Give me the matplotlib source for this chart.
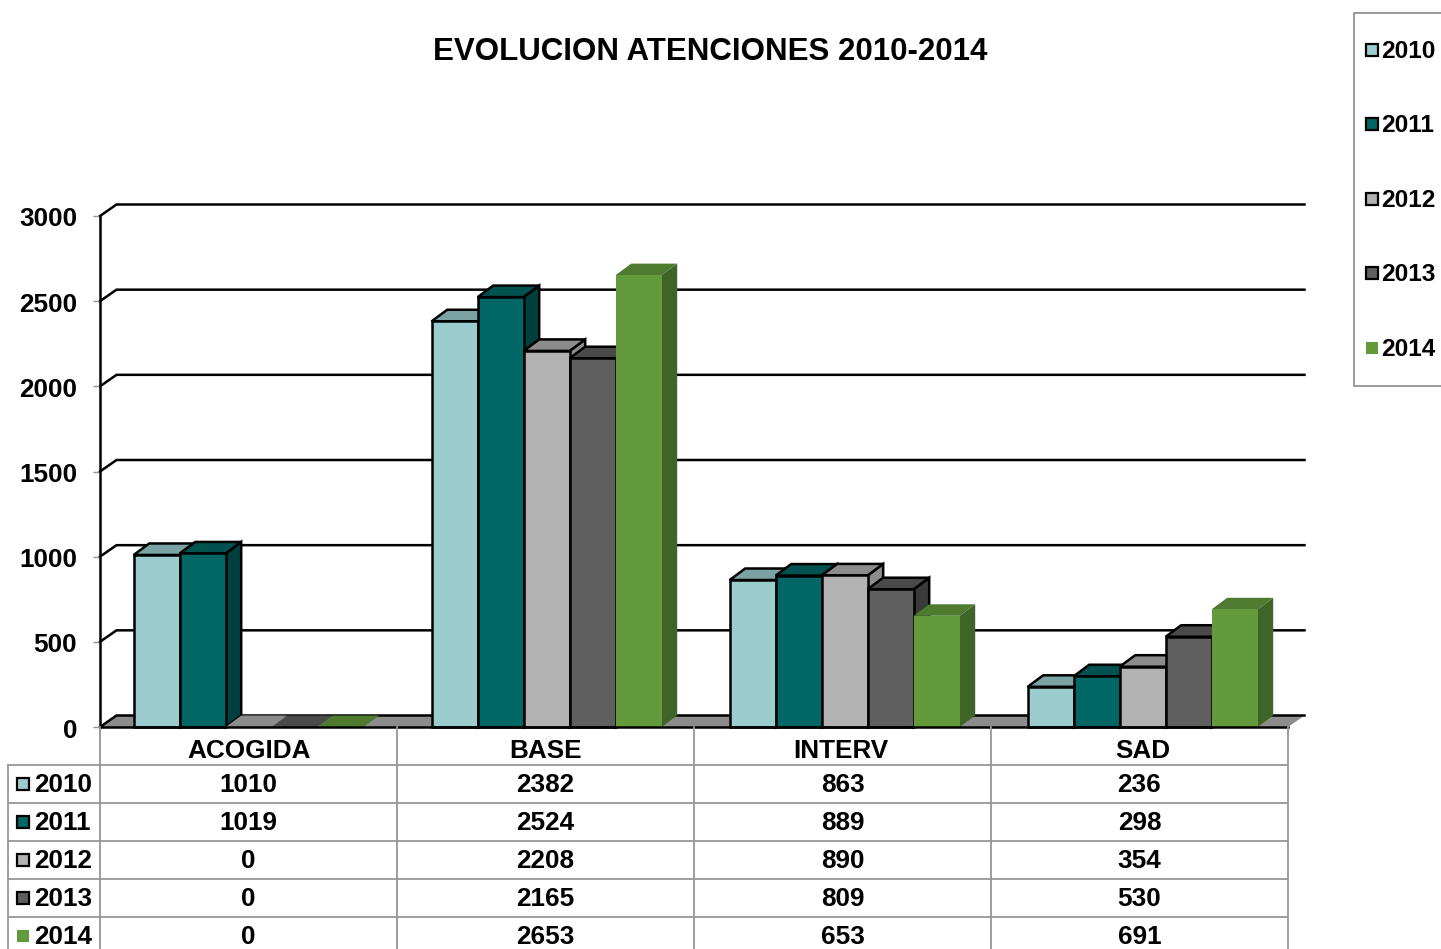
#!/usr/bin/env python3
"""Clustered pseudo-3D bars with data table: EVOLUCION ATENCIONES 2010-2014."""

import matplotlib

matplotlib.use("Agg")
import matplotlib.pyplot as plt
from matplotlib.patches import Polygon, Rectangle
from matplotlib.transforms import ScaledTranslation

plt.rcParams["font.family"] = ["Liberation Sans", "DejaVu Sans"]
plt.rcParams["font.weight"] = "bold"

categories = ["ACOGIDA", "BASE", "INTERV", "SAD"]
years = ["2010", "2011", "2012", "2013", "2014"]
v2010 = [1010, 2382, 863, 236]
v2011 = [1019, 2524, 889, 298]
v2012 = [0, 2208, 890, 354]
v2013 = [0, 2165, 809, 530]
v2014 = [0, 2653, 653, 691]
series = [v2010, v2011, v2012, v2013, v2014]
yticks = [0, 500, 1000, 1500, 2000, 2500, 3000]

front = ["#9bcdce", "#006766", "#b2b2b2", "#5f5f5f", "#629a3c"]
top = ["#7ba3a4", "#005251", "#8c8c8c", "#4a4a4a", "#4e7b30"]
side = ["#5f8a8b", "#003f3e", "#8c8c8c", "#3a3a3a", "#3f6428"]
edges = ["black", "black", "black", "black", "none"]

W, H = 1441, 949
LW = 1.8
GRID = "#969696"

fig = plt.figure(figsize=(W / 100, H / 100), dpi=100, facecolor="white")
ax = fig.add_axes([100 / W, 1 - 727 / H, 1188 / W, 511 / H])
ax.set_xlim(0, 4)
ax.set_ylim(0, 3000)

# depth of the fake 3D box, in data units
px_x = 4 / 1188
px_y = 3000 / 511
DX = 16.5 * px_x
DY = 11.5 * px_y
BAR_DX = 15.5 * px_x
BAR = 46 * px_x
GAP = 33.7 * px_x
PITCH = 298 * px_x  # clusters sit slightly wider apart than the table columns

ax.add_patch(Polygon([(0, 0), (DX, DY), (4 + DX, DY), (4, 0)], fc="#8c8c8c", ec="none", clip_on=False, zorder=1))
for t in yticks:
    ax.plot([0, DX, 4 + DX], [t, t + DY, t + DY], color="black", lw=LW, clip_on=False, zorder=1.5,
            solid_joinstyle="miter")

z = 2
for c in range(len(categories)):
    for s, vals in enumerate(series):
        x0 = c * PITCH + GAP + s * BAR
        x1 = x0 + BAR
        v = vals[c]
        ec = edges[s] if v > 0 else "none"
        lw = LW if v > 0 else 0
        ax.add_patch(Polygon([(x1, 0), (x1 + BAR_DX, DY), (x1 + BAR_DX, v + DY), (x1, v)], fc=side[s], ec=ec, lw=lw,
                             clip_on=False, zorder=z, joinstyle="miter"))
        ax.add_patch(Polygon([(x0, v), (x0 + BAR_DX, v + DY), (x1 + BAR_DX, v + DY), (x1, v)], fc=top[s], ec=ec, lw=lw,
                             clip_on=False, zorder=z, joinstyle="miter"))
        if v > 0:
            ax.add_patch(Rectangle((x0, 0), BAR, v, fc=front[s], ec=ec, lw=lw, clip_on=False, zorder=z,
                                   joinstyle="miter"))
        z += 0.01

for name, spine in ax.spines.items():
    spine.set_visible(name in ("left", "bottom"))
    spine.set_linewidth(LW)
    spine.set_zorder(10)

ax.set_yticks(yticks)
ax.set_xticks([0.503, 1.5, 2.493, 3.51], categories)
ax.tick_params(axis="y", length=5, width=1, color=GRID, pad=11.5, labelsize=18.8)
ax.tick_params(axis="x", length=0, pad=8.5, labelsize=18.8)
nudge = ScaledTranslation(0, -1 / 100, fig.dpi_scale_trans)
for lab in ax.get_yticklabels():
    lab.set_transform(lab.get_transform() + nudge)

# overlay in picture pixels for title, table and legend
ov = fig.add_axes([0, 0, 1, 1], facecolor="none")
ov.set_xlim(0, W)
ov.set_ylim(H, 0)
ov.axis("off")

ov.text(710, 51.5, "EVOLUCION ATENCIONES 2010-2014", ha="center", va="center", fontsize=22.5)

# data table
col_x = [100, 397, 694, 991, 1288]
row_y = [765, 803, 841, 879, 917]
for x in col_x:
    ov.plot([x, x], [727, H], color=GRID, lw=1.3)
ov.plot([8, 8], [row_y[0], H], color=GRID, lw=1.3)
for y in row_y:
    ov.plot([8, col_x[-1]], [y, y], color=GRID, lw=1.3)


def key(x, y, s):
    ec = "black" if s < 4 else "none"
    ov.add_patch(Rectangle((x, y - 6), 12, 12, fc=front[s], ec=ec, lw=1.6 if s < 4 else 0))


for s, vals in enumerate(series):
    y = row_y[s] + 19
    key(17, y - 0.5, s)
    ov.text(34.5, y + 0.5, years[s], ha="left", va="center", fontsize=18.8)
    for c, v in enumerate(vals):
        ov.text((col_x[c] + col_x[c + 1]) / 2, y + 0.7, str(v), ha="center", va="center", fontsize=18.8)

# legend, clipped by the right edge of the picture
ov.plot([W + 5, 1353.5, 1353.5, W + 5], [12.5, 12.5, 385.5, 385.5], color="#7f7f7f", lw=1.1, clip_on=True)
legend_y = [50, 124, 199, 273, 348]
for s, y in enumerate(legend_y):
    key(1365.5, y, s)
    ov.text(1381.5, y + 1.5, years[s], ha="left", va="center", fontsize=17.6)

fig.savefig("out.png", dpi=100)
